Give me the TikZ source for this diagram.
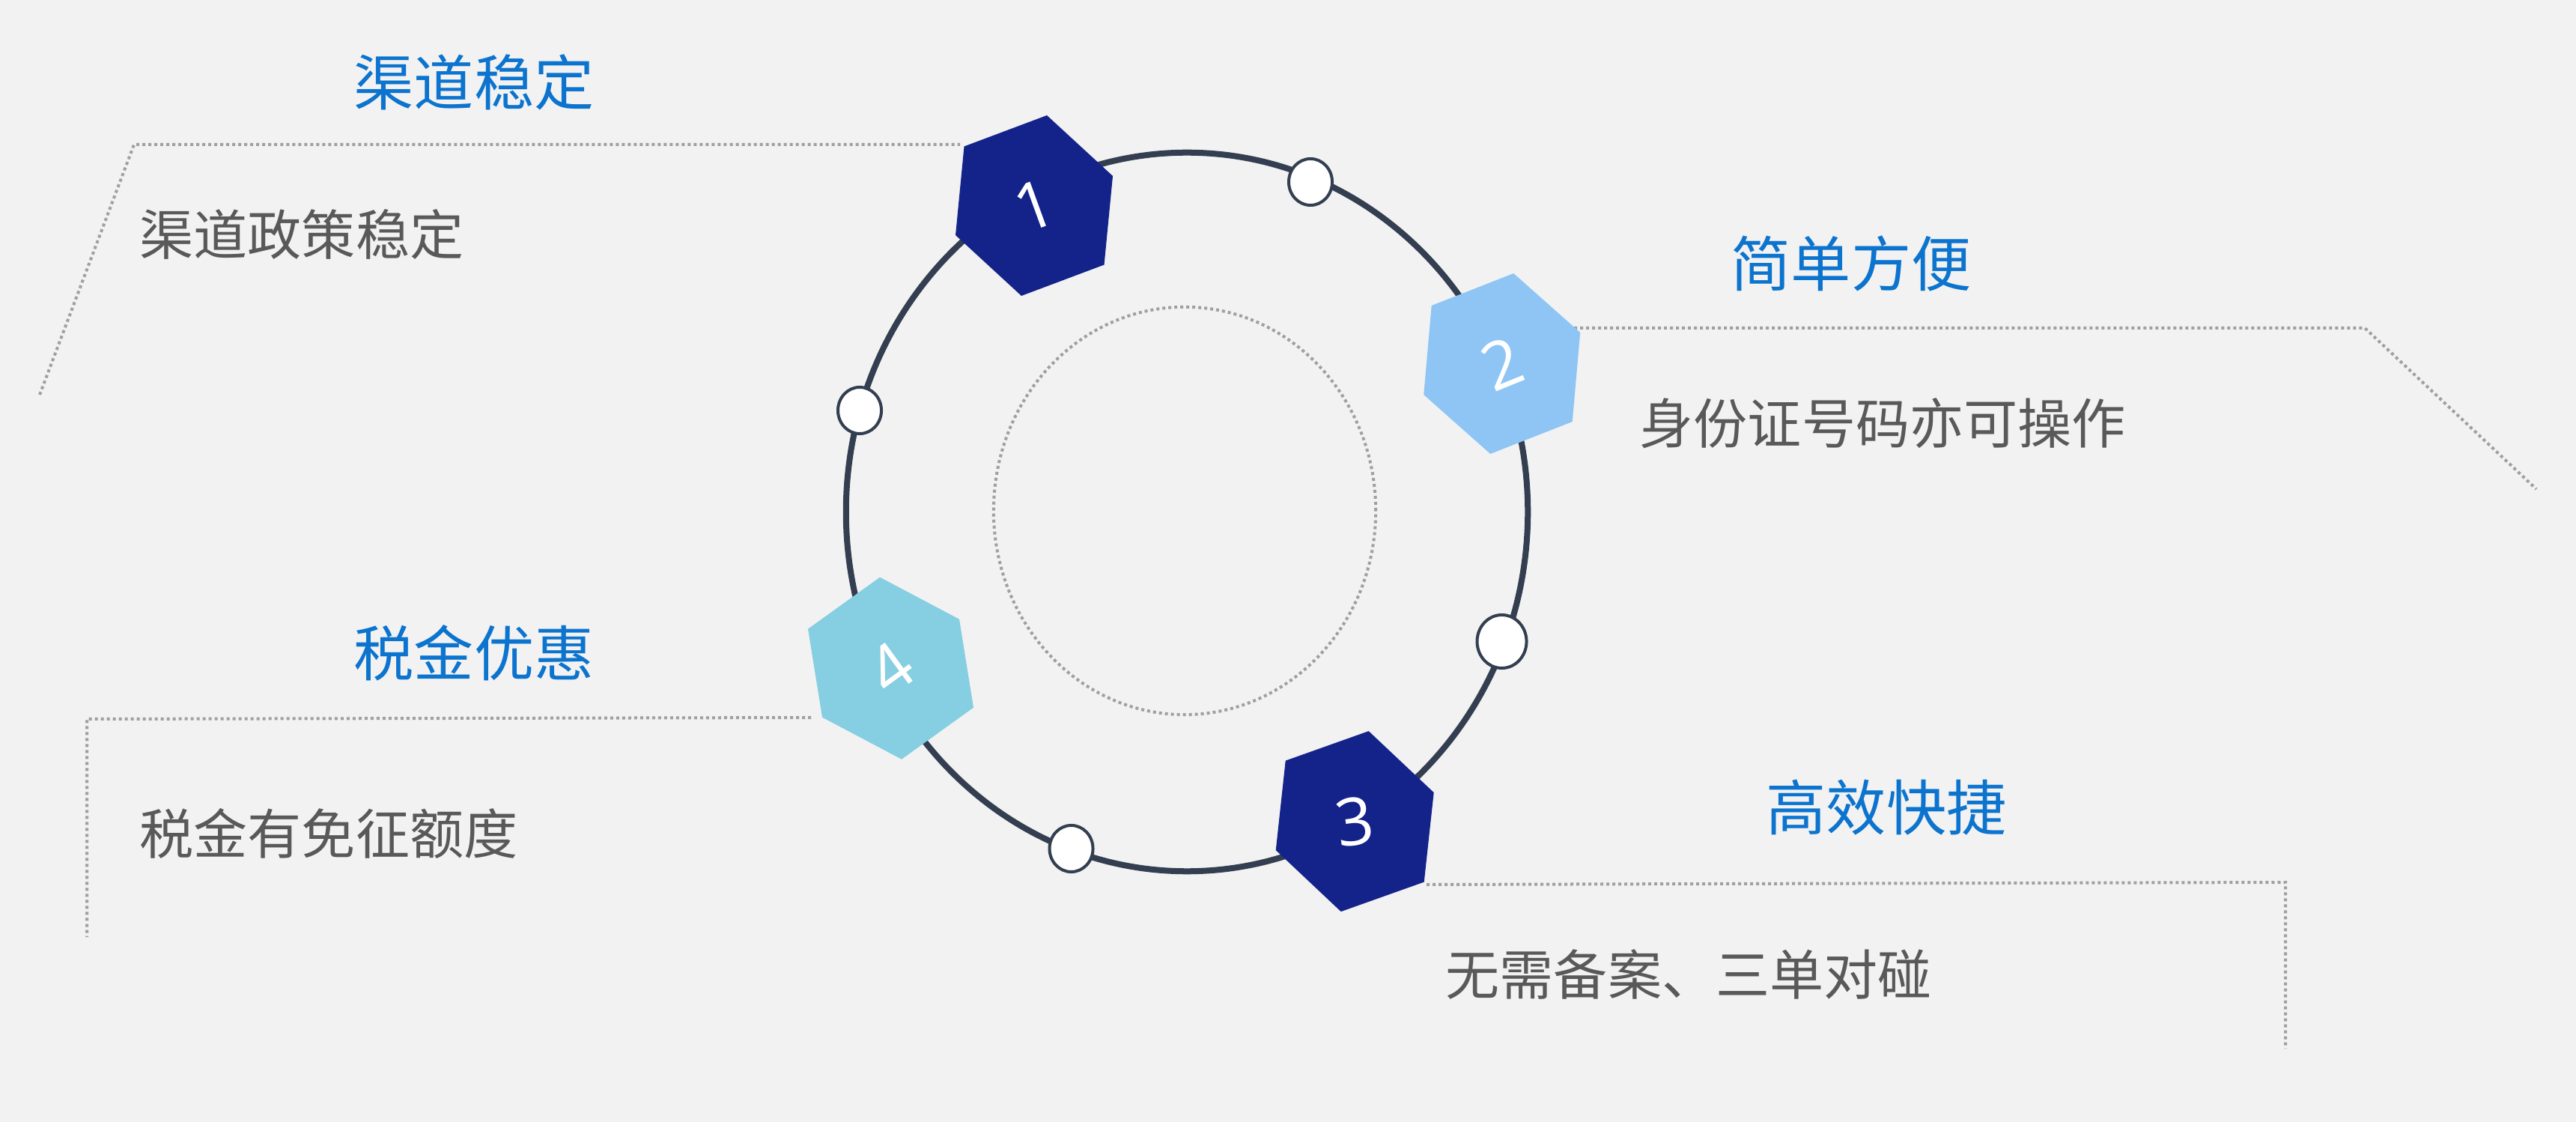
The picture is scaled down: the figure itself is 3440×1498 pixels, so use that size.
\documentclass[tikz,border=0pt]{standalone}
\usepackage{fontspec}
\newfontfamily\cjk{Noto Sans CJK SC}
\newfontfamily\numf{Open Sans}
\usetikzlibrary{shapes.geometric}
\definecolor{bg}{HTML}{F2F2F2}
\definecolor{ringc}{HTML}{333F50}
\definecolor{dotc}{HTML}{A0A0A0}
\definecolor{titleblue}{HTML}{0C74CE}
\definecolor{bodygray}{HTML}{595959}
\definecolor{hexnavy}{HTML}{14238A}
\definecolor{hexlight}{HTML}{8EC5F4}
\definecolor{hexcyan}{HTML}{86CEE2}
\begin{document}
\begin{tikzpicture}[x=0.01cm,y=-0.01cm,
  dotline/.style={draw=dotc, line width=0.04cm, dash pattern=on 0.04cm off 0.04cm},
  titletext/.style={text=titleblue, font=\cjk\fontsize{22.8}{26}\selectfont, inner sep=0pt},
  bodytext/.style={text=bodygray, font=\cjk\fontsize{20.5}{24}\selectfont, inner sep=0pt, anchor=west},
  numtext/.style={text=white, font=\numf\fontsize{25}{28}\selectfont, inner sep=0pt},
  knob/.style={ellipse, draw=ringc, fill=white, line width=0.04cm, minimum width=0.58cm, minimum height=0.62cm, inner sep=0pt},
]
\fill[bg] (0,0) rectangle (3440,1498);
\useasboundingbox (0,0) rectangle (3440,1498);

% centre circles
\coordinate (rc) at (1585,683.5);
\coordinate (ic) at (1582,682);
\draw[dotline] (ic) ellipse [x radius=2.55cm, y radius=2.72cm];
\draw[ringc, line width=0.08cm] (rc) ellipse [x radius=4.55cm, y radius=4.795cm];

% knobs on the ring
\node[knob] (k1) at (1750,243) {};
\node[knob] (k2) at (1148,548) {};
\node[knob, minimum width=0.66cm, minimum height=0.71cm] (k3) at (2005.5,856.5) {};
\node[knob] (k4) at (1430.5,1133) {};

% dotted leader lines
\coordinate (a1) at (53,527);
\coordinate (a2) at (179,193);
\coordinate (a3) at (1282,193);
\draw[dotline] (a1) -- (a2) -- (a3);
\coordinate (b1s) at (2102,438);
\coordinate (b1k) at (3158,438);
\coordinate (b1e) at (3387,653);
\draw[dotline] (b1s) -- (b1k) -- (b1e);
\coordinate (d1s) at (1083,958);
\coordinate (d1k) at (116,960);
\coordinate (d1e) at (116,1251);
\draw[dotline] (d1s) -- (d1k) -- (d1e);
\coordinate (e1s) at (1905,1181);
\coordinate (e1k) at (3052,1178);
\coordinate (e1e) at (3052,1400);
\draw[dotline] (e1s) -- (e1k) -- (e1e);

% hexagons
\coordinate (c1) at (1381,274.5);
\coordinate (c2) at (2005.7,485.5);
\coordinate (c3) at (1809.2,1096.6);
\coordinate (c4) at (1189.5,892.2);
\fill[hexnavy, shift={(c1)}] (17,-120.5) -- (105,-39.5) -- (93.5,79) -- (-17,120.5) -- (-105,39.5) -- (-93.5,-79) -- cycle;
\fill[hexlight, shift={(c2)}] (15.5,-120.5) -- (104.5,-41.5) -- (94,77.5) -- (-15.5,120.5) -- (-104.5,41.5) -- (-94,-77.5) -- cycle;
\fill[hexnavy, shift={(c3)}] (18.5,-120.5) -- (105.5,-38.5) -- (92.5,81) -- (-18.5,120.5) -- (-105.5,38.5) -- (-92.5,-81) -- cycle;
\fill[hexcyan, shift={(c4)}] (-14.5,-121.5) -- (91.5,-65.5) -- (110.5,52.5) -- (14.5,121.5) -- (-91.5,65.5) -- (-110.5,-52.5) -- cycle;
\node[numtext, rotate=20] (h1) at (c1) {1};
\node[numtext, rotate=22] (h2) at (c2) {2};
\node[numtext, rotate=8] (h3) at (c3) {3};
\node[numtext, rotate=36] (h4) at (c4) {4};

% texts
\node[titletext] (t1) at (633,110) {渠道稳定};
\node[bodytext] (p1) at (186,313) {渠道政策稳定};
\node[titletext] (t2) at (2472,352) {简单方便};
\node[bodytext] (p2) at (2189,565) {身份证号码亦可操作};
\node[titletext] (t3) at (2519,1078) {高效快捷};
\node[bodytext] (p3) at (1930,1301) {无需备案、三单对碰};
\node[titletext] (t4) at (633,872) {税金优惠};
\node[bodytext] (p4) at (186,1113) {税金有免征额度};
\end{tikzpicture}
\end{document}
